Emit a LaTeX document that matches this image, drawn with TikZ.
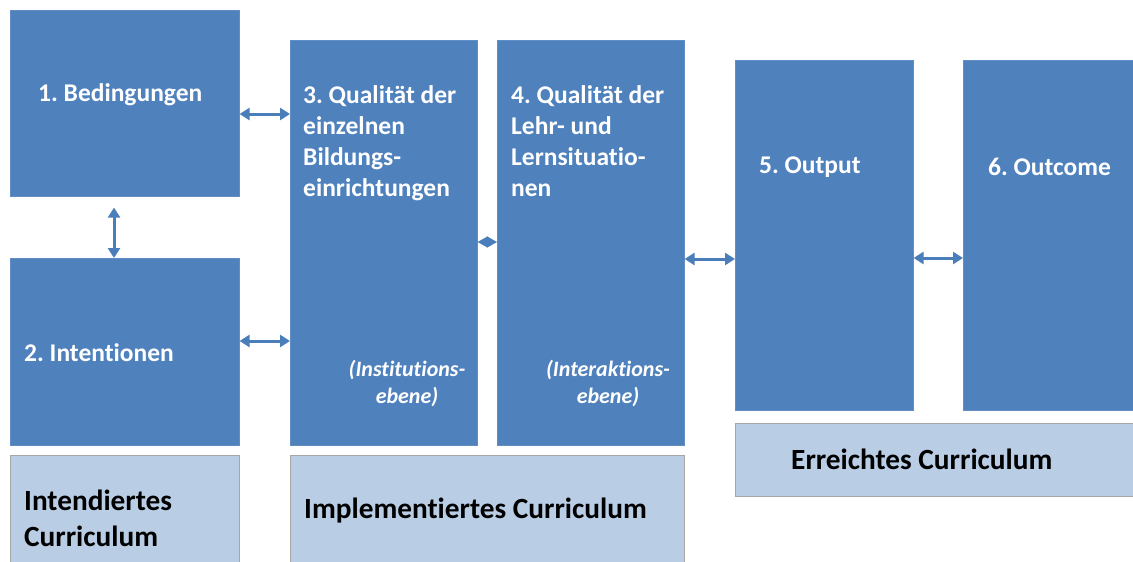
\documentclass[tikz,border=0pt]{standalone}
\usepackage{fontspec}
\setmainfont{Carlito}[Ligatures={NoCommon}]
\usetikzlibrary{arrows.meta}
\usetikzlibrary{positioning}
\definecolor{boxblue}{HTML}{4F81BD}
\definecolor{lightblue}{HTML}{B9CDE5}
\definecolor{arrowblue}{HTML}{4A7EBB}
\frenchspacing
\tikzset{
  mybox/.style={
    fill=boxblue,
    draw=boxblue!90!white,
    line width=0.6pt,
    shape=rectangle,
    anchor=north west,
    inner sep=0pt,
  },
  mylabelbox/.style={
    fill=lightblue,
    draw=black!35,
    line width=1pt,
    shape=rectangle,
    anchor=north west,
    inner sep=0pt,
  },
  myarrow/.style={
    draw=arrowblue,
    line width=3pt,
    {Triangle[length=10pt,width=12pt]}-{Triangle[length=10pt,width=12pt]},
  },
  mytext/.style={
    text=white,
    anchor=west,
    align=left,
    inner sep=0pt,
    font=\fontsize{25.5}{31}\selectfont\bfseries,
  },
  myitalic/.style={
    text=white,
    align=center,
    inner sep=0pt,
    font=\fontsize{22}{27}\selectfont\bfseries\itshape,
  },
  mylabel/.style={
    text=black,
    anchor=west,
    align=left,
    inner sep=0pt,
    font=\fontsize{29.3}{36}\selectfont\bfseries,
  },
}
\begin{document}
\begin{tikzpicture}[x=1pt,y=-1pt]
    \clip (0,0) rectangle (1133,562);
    \fill[white] (0,0) rectangle (1133,562);

    % main boxes
    \node[mybox, minimum width=229, minimum height=186] (b1) at (10,10) {};
    \node[mybox, minimum width=229, minimum height=187] (b2) at (10,258) {};
    \node[mybox, minimum width=187, minimum height=405] (b3) at (290,40) {};
    \node[mybox, minimum width=187, minimum height=405] (b4) at (497,40) {};
    \node[mybox, minimum width=178, minimum height=350] (b5) at (735,60) {};
    \node[mybox, minimum width=180, minimum height=350] (b6) at (963,60) {};

    % curriculum boxes
    \node[mylabelbox, minimum width=229, minimum height=120] (c1) at (10,455) {};
    \node[mylabelbox, minimum width=394, minimum height=120] (c2) at (290,455) {};
    \node[mylabelbox, minimum width=410, minimum height=73] (c3) at (735,423) {};

    % texts
    \node[mytext] (t1) at (38,95) {1. Bedingungen};
    \node[mytext] (t2) at (24,353) {2. Intentionen};
    \node[mytext, anchor=north west] (t3) at (303,85) {3. Qualität der\\einzelnen\\Bildungs-\\einrichtungen};
    \node[mytext, anchor=north west] (t4) at (511,85) {4. Qualität der\\Lehr- und\\Lernsituatio-\\nen};
    \node[mytext] (t5) at (759,167) {5. Output};
    \node[mytext] (t6) at (988,167) {6. Outcome};
    \node[myitalic] (e3) at (407,383) {(Institutions-\\ebene)};
    \node[myitalic] (e4) at (608,383) {(Interaktions-\\ebene)};

    \node[mylabel] (l1) at (24,518) {Intendiertes\\Curriculum};
    \node[mylabel] (l2) at (304,511) {Implementiertes Curriculum};
    \node[mylabel] (l3) at (791,459) {Erreichtes Curriculum};

    % arrows
    \draw[myarrow] (b1.east |- 0,114) -- (b3.west |- 0,114);
    \draw[myarrow] (b1.south -| 114,0) ++(0,11) coordinate (a1) -- (b2.north -| a1);
    \draw[myarrow] (b2.east |- 0,341) -- (b3.west |- 0,341);
    \draw[myarrow, line width=1pt, {Triangle[length=10pt,width=11pt]}-{Triangle[length=10pt,width=11pt]}] (b3.east |- 0,242) -- (b4.west |- 0,242);
    \draw[myarrow] (b4.east |- 0,259) -- (b5.west |- 0,259);
    \draw[myarrow] (b5.east |- 0,258) -- (b6.west |- 0,258);
  \end{tikzpicture}
\end{document}
